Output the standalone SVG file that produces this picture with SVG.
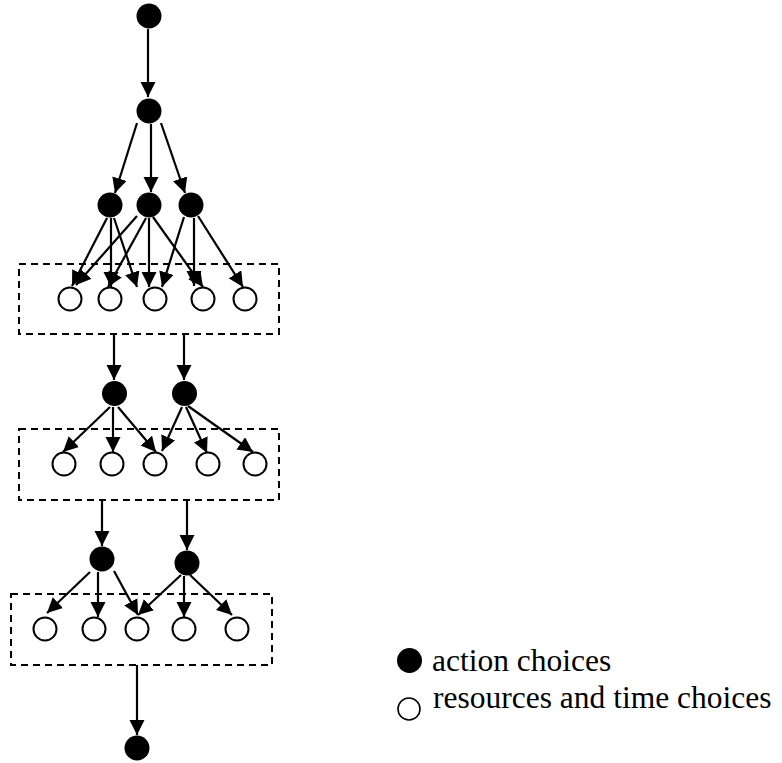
<svg xmlns="http://www.w3.org/2000/svg" width="782" height="763" viewBox="0 0 782 763">
  <style>
    .act { fill: #000; }
    .res { fill: #fff; stroke: #000; stroke-width: 2; }
    .box { fill: none; stroke: #000; stroke-width: 2; stroke-dasharray: 7 5; }
    .edge { stroke: #000; stroke-width: 2.2; fill: none; marker-end: url(#arrow); }
  </style>
  <defs>
    <marker id="arrow" markerUnits="userSpaceOnUse" markerWidth="16" markerHeight="16" refX="15" refY="7.5" orient="auto">
      <path d="M0,0 L15,7.5 L0,15 z" fill="#000"/>
    </marker>
  </defs>

  <!-- grouping boxes for resource/time choices -->
  <g id="box1"><rect class="box" x="19" y="264" width="260" height="70"/></g>
  <g id="box2"><rect class="box" x="19" y="429" width="260" height="71"/></g>
  <g id="box3"><rect class="box" x="11" y="594" width="261" height="71"/></g>

  <!-- connectors -->
  <g id="connectors">
    <line class="edge" x1="148" y1="29" x2="148" y2="97"/>

    <line class="edge" x1="137" y1="123" x2="115" y2="193"/>
    <line class="edge" x1="151" y1="124" x2="151" y2="192"/>
    <line class="edge" x1="161" y1="123" x2="185" y2="193"/>

    <line class="edge" x1="107" y1="218" x2="72" y2="286"/>
    <line class="edge" x1="111" y1="218" x2="111" y2="287"/>
    <line class="edge" x1="114" y1="218" x2="137" y2="287"/>
    <line class="edge" x1="137" y1="216" x2="76" y2="285"/>
    <line class="edge" x1="146" y1="218" x2="108" y2="287"/>
    <line class="edge" x1="149" y1="218" x2="149" y2="287"/>
    <line class="edge" x1="153" y1="217" x2="203" y2="287"/>
    <line class="edge" x1="184" y1="217" x2="162" y2="287"/>
    <line class="edge" x1="194" y1="218" x2="194" y2="286"/>
    <line class="edge" x1="198" y1="216" x2="243" y2="287"/>

    <line class="edge" x1="114" y1="335" x2="114" y2="380"/>
    <line class="edge" x1="184" y1="335" x2="184" y2="380"/>

    <line class="edge" x1="110" y1="407" x2="63" y2="452"/>
    <line class="edge" x1="113" y1="407" x2="113" y2="452"/>
    <line class="edge" x1="118" y1="407" x2="156" y2="452"/>
    <line class="edge" x1="182" y1="407" x2="162" y2="451"/>
    <line class="edge" x1="186" y1="407" x2="207" y2="453"/>
    <line class="edge" x1="188" y1="406" x2="253" y2="452"/>

    <line class="edge" x1="102" y1="500" x2="102" y2="546"/>
    <line class="edge" x1="187" y1="500" x2="187" y2="550"/>

    <line class="edge" x1="90" y1="572" x2="47" y2="613"/>
    <line class="edge" x1="98" y1="572" x2="98" y2="617"/>
    <line class="edge" x1="114" y1="571" x2="138" y2="615"/>
    <line class="edge" x1="181" y1="575" x2="138" y2="615"/>
    <line class="edge" x1="184" y1="576" x2="184" y2="617"/>
    <line class="edge" x1="190" y1="575" x2="232" y2="615"/>

    <line class="edge" x1="137" y1="665" x2="137" y2="735"/>
  </g>

  <!-- action choice nodes -->
  <g id="a0"><circle class="act" cx="149" cy="16" r="12.5"/></g>
  <g id="a1"><circle class="act" cx="149" cy="111" r="12.5"/></g>
  <g id="a2"><circle class="act" cx="110" cy="205" r="12.5"/></g>
  <g id="a3"><circle class="act" cx="149" cy="205" r="12.5"/></g>
  <g id="a4"><circle class="act" cx="191" cy="205" r="12.5"/></g>
  <g id="a5"><circle class="act" cx="114.5" cy="393.5" r="12.5"/></g>
  <g id="a6"><circle class="act" cx="184.5" cy="393.5" r="12.5"/></g>
  <g id="a7"><circle class="act" cx="102" cy="559" r="12.5"/></g>
  <g id="a8"><circle class="act" cx="187" cy="563" r="12.5"/></g>
  <g id="a9"><circle class="act" cx="137" cy="748" r="12.5"/></g>

  <!-- resource and time choice nodes -->
  <g id="r1a"><circle class="res" cx="70" cy="299" r="11.5"/></g>
  <g id="r1b"><circle class="res" cx="110" cy="299" r="11.5"/></g>
  <g id="r1c"><circle class="res" cx="155" cy="299" r="11.5"/></g>
  <g id="r1d"><circle class="res" cx="203" cy="299" r="11.5"/></g>
  <g id="r1e"><circle class="res" cx="245" cy="299" r="11.5"/></g>

  <g id="r2a"><circle class="res" cx="64" cy="464" r="11.5"/></g>
  <g id="r2b"><circle class="res" cx="112" cy="464" r="11.5"/></g>
  <g id="r2c"><circle class="res" cx="155" cy="464" r="11.5"/></g>
  <g id="r2d"><circle class="res" cx="208" cy="464" r="11.5"/></g>
  <g id="r2e"><circle class="res" cx="255" cy="464" r="11.5"/></g>

  <g id="r3a"><circle class="res" cx="45" cy="629" r="11.5"/></g>
  <g id="r3b"><circle class="res" cx="94" cy="629" r="11.5"/></g>
  <g id="r3c"><circle class="res" cx="137" cy="629" r="11.5"/></g>
  <g id="r3d"><circle class="res" cx="184" cy="629" r="11.5"/></g>
  <g id="r3e"><circle class="res" cx="237" cy="629" r="11.5"/></g>

  <!-- legend -->
  <g id="legend" font-family="'Liberation Serif', 'Times New Roman', Times, 'DejaVu Serif', serif" font-size="31.5" fill="#000">
    <circle class="act" cx="409.5" cy="660.5" r="12.5"/>
    <text x="432" y="671">action choices</text>
    <circle class="res" cx="409" cy="709" r="11" stroke-width="1.6" style="stroke-width:1.6"/>
    <text x="433" y="708">resources and time choices</text>
  </g>
</svg>
